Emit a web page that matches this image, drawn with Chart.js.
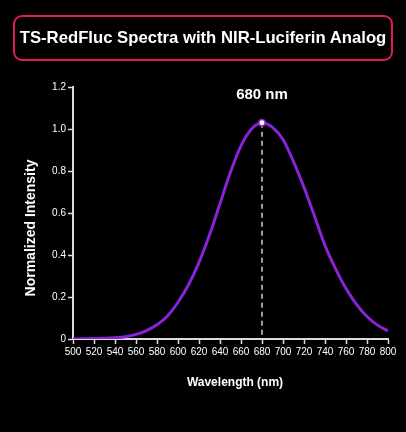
<!DOCTYPE html>
<html>
<head>
<meta charset="utf-8">
<title>TS-RedFluc Spectra</title>
<script src="https://cdn.jsdelivr.net/npm/chart.js@4.4.0/dist/chart.umd.min.js"></script>
<style>
  html, body { margin: 0; padding: 0; background: #000; }
  #wrap { position: relative; width: 406px; height: 432px; overflow: hidden; }
  #chart { position: absolute; left: 0; top: 0; }
  .title-box {
    position: absolute; left: 13px; top: 15px; width: 376px; height: 42px;
    border: 2px solid #e3195f; border-radius: 9px;
    color: #fff; font: bold 16.7px "Liberation Sans", Arial, sans-serif;
    display: flex; align-items: center; justify-content: center; white-space: nowrap;
  }
</style>
</head>
<body>
<div id="wrap">
  <canvas id="chart" width="406" height="432"></canvas>
  <div class="title-box">TS-RedFluc Spectra with NIR-Luciferin Analog</div>
</div>
<script>
  /* ==========================
     DATA
  ========================== */
  const wavelengths = [500, 510, 520, 530, 540, 550, 560, 570, 580, 590, 600,
    610, 620, 630, 640, 650, 660, 670, 680, 690, 700,
    710, 720, 730, 740, 750, 760, 770, 780, 790, 800];
  const intensity = [0.000, 0.001, 0.002, 0.003, 0.006, 0.011, 0.022, 0.040, 0.068, 0.110, 0.175,
    0.258, 0.365, 0.495, 0.645, 0.795, 0.920, 1.000, 1.030, 1.008, 0.950,
    0.845, 0.722, 0.585, 0.445, 0.335, 0.240, 0.165, 0.107, 0.066, 0.038];
  const xTicks = [500, 520, 540, 560, 580, 600, 620, 640, 660, 680, 700, 720, 740, 760, 780, 800];
  const yTicks = [0, 0.2, 0.4, 0.6, 0.8, 1.0, 1.2];

  const FONT = '"Liberation Sans", Arial, sans-serif';
  const LINE = "#8a22d8";
  const AXIS = "#dcdcdc";

  // peak comes straight out of the series
  let peakIdx = 0;
  intensity.forEach(function (v, i) { if (v > intensity[peakIdx]) peakIdx = i; });
  const peakX = wavelengths[peakIdx];
  const peakY = intensity[peakIdx];

  /* ==========================
     PEAK MARKER + AXIS TITLES
  ========================== */
  const peakPlugin = {
    id: "peakPlugin",
    beforeDatasetsDraw(chart) {
      const { ctx, scales } = chart;
      const px = scales.x.getPixelForValue(peakX);
      const py = scales.y.getPixelForValue(peakY);
      const base = scales.y.getPixelForValue(0);

      ctx.save();
      ctx.strokeStyle = "#cfcfcf";
      ctx.lineWidth = 1.5;
      ctx.setLineDash([5, 4]);
      ctx.beginPath();
      ctx.moveTo(px, py);
      ctx.lineTo(px, base);
      ctx.stroke();
      ctx.restore();
    },
    afterDraw(chart) {
      const { ctx, scales } = chart;
      const px = scales.x.getPixelForValue(peakX);

      ctx.save();
      ctx.fillStyle = "#fff";
      ctx.textAlign = "center";
      ctx.textBaseline = "middle";

      ctx.font = "bold 15px " + FONT;
      ctx.fillText(peakX + " nm", px, 95);

      ctx.font = "bold 12px " + FONT;
      ctx.fillText("Wavelength (nm)", 235, 383);

      ctx.translate(31, 228);
      ctx.rotate(-Math.PI / 2);
      ctx.font = "bold 14px " + FONT;
      ctx.fillText("Normalized Intensity", 0, 0);
      ctx.restore();
    }
  };

  /* ==========================
     CHART
  ========================== */
  function createSpectraChart(ctx) {
    return new Chart(ctx, {
      type: "line",
      data: {
        datasets: [
          {
            label: "Peak",
            data: [{ x: peakX, y: peakY }],
            showLine: false,
            pointRadius: 3.2,
            pointBackgroundColor: "#ffffff",
            pointBorderColor: LINE,
            pointBorderWidth: 1.5,
          },
          {
            label: "Emission",
            data: wavelengths.map(function (w, i) { return { x: w, y: intensity[i] }; }),
            borderColor: LINE,
            borderWidth: 3,
            pointRadius: 0,
            cubicInterpolationMode: "monotone",
            fill: false,
          },
        ],
      },
      options: {
        responsive: false,
        animation: false,
        layout: { padding: { top: 87, right: 18, left: 0, bottom: 0 } },
        plugins: {
          legend: { display: false },
          tooltip: { enabled: false },
        },
        scales: {
          x: {
            type: "linear",
            min: 500,
            max: 800,
            afterFit(scale) { scale.height = 93; },
            afterBuildTicks(scale) { scale.ticks = xTicks.map(function (v) { return { value: v }; }); },
            grid: { drawOnChartArea: false, drawTicks: true, tickLength: 5, tickColor: AXIS, tickWidth: 1.5 },
            border: { color: AXIS, width: 2 },
            ticks: { color: "#fff", font: { family: FONT, size: 10 }, padding: 2, maxRotation: 0, autoSkip: false },
          },
          y: {
            min: 0,
            max: 1.2,
            afterFit(scale) { scale.width = 73; },
            afterBuildTicks(scale) { scale.ticks = yTicks.map(function (v) { return { value: v }; }); },
            grid: { drawOnChartArea: false, drawTicks: true, tickLength: 5, tickColor: AXIS, tickWidth: 1.5 },
            border: { color: AXIS, width: 2 },
            ticks: {
              color: "#fff",
              font: { family: FONT, size: 10 },
              padding: 2,
              callback: function (v) { return v === 0 ? "0" : v.toFixed(1); },
            },
          },
        },
      },
      plugins: [peakPlugin],
    });
  }

  try {
    createSpectraChart(document.getElementById("chart").getContext("2d"));
  } catch (e) {
    console.warn("Chart init failed", e);
  }
</script>
</body>
</html>
